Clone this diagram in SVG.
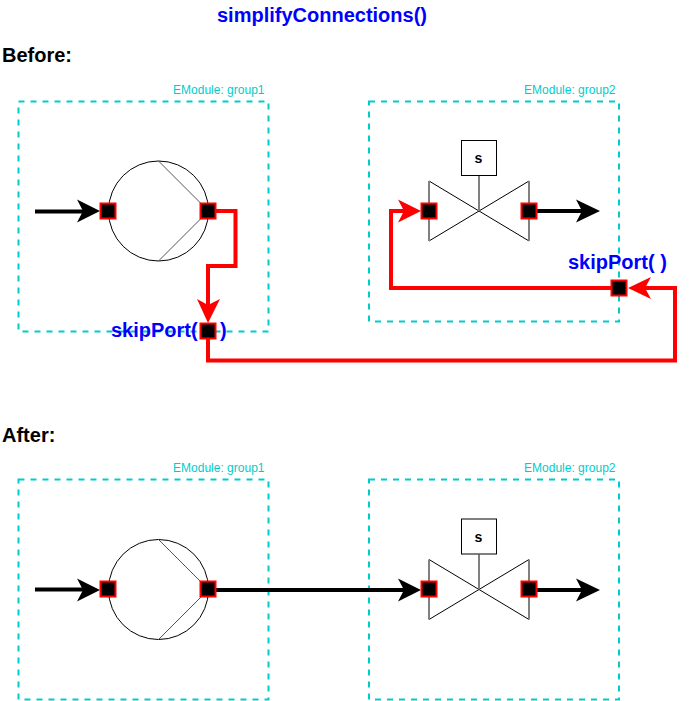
<svg xmlns="http://www.w3.org/2000/svg" width="691" height="701" viewBox="0 0 691 701">
<style>
text{font-family:"Liberation Sans",Arial,sans-serif}
.box{fill:none;stroke:#00cccc;stroke-width:2;stroke-dasharray:6 6}
.ml{font-size:12px;fill:#00cccc;text-anchor:end}
.title{font-size:20px;font-weight:bold;fill:#000}
.skip{font-size:20px;font-weight:bold;fill:#0000ff}
.port{fill:#000;stroke:#ff0000;stroke-width:2}
.sym{fill:#fff;stroke:#000;stroke-width:1}
.gr{fill:none;stroke:#555;stroke-width:1}
.gt{fill:none;stroke:#808080;stroke-width:2}
.bl{fill:none;stroke:#000;stroke-width:4}
.rd{fill:none;stroke:#ff0000;stroke-width:4}
</style>
<defs>
<g id="pump"><circle class="sym" cx="0" cy="0" r="50"/><path class="gr" d="M0-50L50 0L0 50"/></g>
<g id="valve"><path class="sym" style="fill:none" d="M-50-30L50 30M-50 30L50-30"/><path class="gt" d="M-50-30V30M50-30V30M0 0V-35"/><rect class="sym" x="-17.500" y="-70.500" width="35" height="35"/><text x="-0.500" y="-48" font-size="14" font-weight="bold" text-anchor="middle">s</text></g>
</defs>
<text x="322" y="22" font-size="20" font-weight="bold" fill="#0000ff" text-anchor="middle">simplifyConnections()</text>
<text class="title" x="2" y="62">Before:</text>
<text class="title" x="2" y="442">After:</text>

<g id="before-group1"><rect class="box" x="18.5" y="101.5" width="250" height="230"/><text class="ml" x="264.500" y="94">EModule: group1</text></g>
<g id="before-group2"><rect class="box" x="369" y="101.5" width="250" height="220"/><text class="ml" x="615.500" y="94">EModule: group2</text></g>
<g id="after-group1"><rect class="box" x="18.5" y="479.5" width="250" height="220"/><text class="ml" x="264.500" y="472">EModule: group1</text></g>
<g id="after-group2"><rect class="box" x="369" y="479.5" width="250" height="220"/><text class="ml" x="615.500" y="472">EModule: group2</text></g>

<g id="before-pump"><use href="#pump" x="158.5" y="211"/></g>
<g id="before-valve"><use href="#valve" x="479" y="211"/></g>
<g id="after-pump"><use href="#pump" x="158.5" y="589.5"/></g>
<g id="after-valve"><use href="#valve" x="479" y="589.5"/></g>

<g id="connectors">
<path class="bl" d="M35 211.500H90"/><path d="M100 211L77 199.500L83 211L77 222.500Z" fill="#000"/>
<path class="bl" d="M537 211H585"/><path d="M600 211L576 199.500L582 211L576 222.500Z" fill="#000"/>
<path class="rd" d="M216 211H235.500V266H208V305"/><path d="M208 323L197 299L208 305L220 299Z" fill="#ff0000"/>
<path class="rd" d="M208 339V360.500H675V288H640"/><path d="M628 288L651 277L645 288L651 299Z" fill="#ff0000"/>
<path class="rd" d="M611 288H391V211H405"/><path d="M421 211L398 199.500L404 211L398 222.500Z" fill="#ff0000"/>
<path class="bl" d="M35 589.500H90"/><path d="M100 590L77 578.500L83 590L77 601.500Z" fill="#000"/>
<path class="bl" d="M216 590H405"/><path d="M421 590L398 578.500L404 590L398 601.500Z" fill="#000"/>
<path class="bl" d="M537 590H585"/><path d="M600 590L576 578.500L582 590L576 601.500Z" fill="#000"/>
</g>

<text class="skip" x="111" y="337">skipPort(&#160;&#160;&#160;&#160;)</text>
<text class="skip" x="568" y="269">skipPort( )</text>

<g id="ports">
<rect class="port" x="100.500" y="203.500" width="15" height="15"/>
<rect class="port" x="200.500" y="203.500" width="15" height="15"/>
<rect class="port" x="200.500" y="323.500" width="15" height="15"/>
<rect class="port" x="421.500" y="203.500" width="15" height="15"/>
<rect class="port" x="521.500" y="203.500" width="15" height="15"/>
<rect class="port" x="611.500" y="280.500" width="15" height="15"/>
<rect class="port" x="100.500" y="581.500" width="15" height="15"/>
<rect class="port" x="200.500" y="581.500" width="15" height="15"/>
<rect class="port" x="421.500" y="581.500" width="15" height="15"/>
<rect class="port" x="521.500" y="581.500" width="15" height="15"/>
</g>
</svg>
